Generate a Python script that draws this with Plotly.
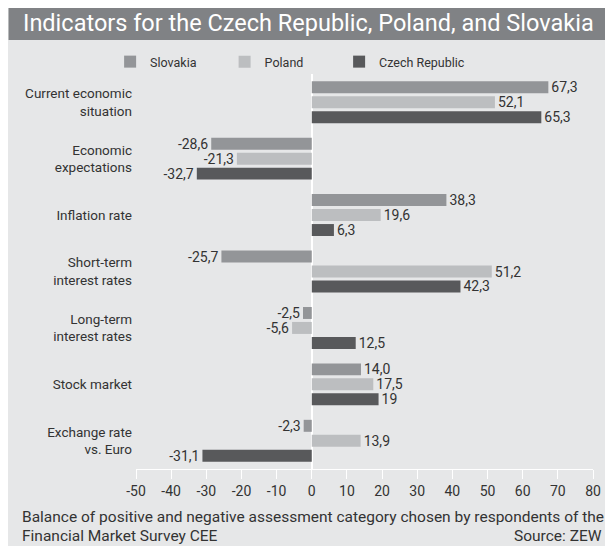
import plotly.graph_objects as go

categories = [
    "Current economic<br>situation",
    "Economic<br>expectations",
    "Inflation rate",
    "Short-term<br>interest rates",
    "Long-term<br>interest rates",
    "Stock market",
    "Exchange rate<br>vs. Euro",
]
slovakia = [67.3, -28.6, 38.3, -25.7, -2.5, 14.0, -2.3]
poland = [52.1, -21.3, 19.6, 51.2, -5.6, 17.5, 13.9]
czech = [65.3, -32.7, 6.3, 42.3, 12.5, 19, -31.1]
slovakia_text = ["67,3", "-28,6", "38,3", "-25,7", "-2,5", "14,0", "-2,3"]
poland_text = ["52,1", "-21,3", "19,6", "51,2", "-5,6", "17,5", "13,9"]
czech_text = ["65,3", "-32,7", "6,3", "42,3", "12,5", "19", "-31,1"]
x_ticks = list(range(-50, 81, 10))

COLOURS = {
    "Slovakia": "#939598",
    "Poland": "#bcbec0",
    "Czech Republic": "#58595b",
    "bg": "#e6e7e8",
    "title": "#808285",
    "text": "#333333",
}
FONT = "Roboto"

# the page puts the figure 8px in from the top-left corner
W, H = 605, 538
L, R, T, B = 128, 18, 66, 77
PW, PH = W - L - R, H - T - B


def px(x):
    return (x - L) / PW


def py(y):
    return (H - B - y) / PH


fig = go.Figure()
series = [
    ("Slovakia", slovakia, slovakia_text, "legend", 102),
    ("Poland", poland, poland_text, "legend2", 217),
    ("Czech Republic", czech, czech_text, "legend3", 332),
]
legends = {}
for name, vals, txt, leg, leg_x in series:
    fig.add_trace(
        go.Bar(
            y=categories,
            x=vals,
            orientation="h",
            name=name,
            legend=leg,
            marker=dict(color=COLOURS[name], line=dict(width=0)),
            text=txt,
            textposition="outside",
            textfont=dict(size=14, color=COLOURS["text"], family=FONT),
            constraintext="none",
            cliponaxis=False,
        )
    )
    legends[leg] = dict(
        orientation="h",
        x=px(leg_x),
        y=py(54),
        xanchor="left",
        yanchor="middle",
        bgcolor="rgba(0,0,0,0)",
        font=dict(size=12.5, color=COLOURS["text"]),
    )

fig.update_layout(
    width=W,
    height=H,
    margin=dict(l=L, r=R, t=T, b=B),
    paper_bgcolor=COLOURS["bg"],
    plot_bgcolor=COLOURS["bg"],
    barmode="group",
    bargap=0.204,
    bargroupgap=0.2,
    font=dict(family=FONT, size=13, color=COLOURS["text"]),
    showlegend=True,
    **legends,
)

fig.update_xaxes(
    range=[-50, 80],
    tickvals=x_ticks,
    ticktext=[str(v) for v in x_ticks],
    showgrid=False,
    zeroline=True,
    zerolinecolor="white",
    zerolinewidth=2,
    showline=True,
    linecolor="white",
    linewidth=1,
    ticks="outside",
    tickcolor="white",
    ticklen=9,
    tickfont=dict(size=14),
)
fig.update_yaxes(
    range=[6.5, -0.5],
    showgrid=False,
    zeroline=False,
    ticks="",
    ticklabelstandoff=3,
    tickfont=dict(size=13.5),
)

# title bar
fig.add_shape(type="rect", xref="paper", yref="paper", x0=px(0), x1=px(W), y0=py(32), y1=py(0),
              fillcolor=COLOURS["title"], line_width=0, layer="above")

fig.add_annotation(
    text="Indicators for the Czech Republic, Poland, and Slovakia",
    xref="paper", yref="paper", x=px(12), y=py(15),
    xanchor="left", yanchor="middle", showarrow=False,
    font=dict(size=23.5, color="white", family=FONT),
)
fig.add_annotation(
    text="Balance of positive and negative assessment category chosen by respondents of the",
    xref="paper", yref="paper", x=px(11), y=py(509),
    xanchor="left", yanchor="middle", showarrow=False,
    font=dict(size=15.5, color=COLOURS["text"], family=FONT),
)
fig.add_annotation(
    text="Financial Market Survey CEE",
    xref="paper", yref="paper", x=px(11), y=py(528),
    xanchor="left", yanchor="middle", showarrow=False,
    font=dict(size=15.5, color=COLOURS["text"], family=FONT),
)
fig.add_annotation(
    text="Source: ZEW",
    xref="paper", yref="paper", x=px(598), y=py(528),
    xanchor="right", yanchor="middle", showarrow=False,
    font=dict(size=15.5, color=COLOURS["text"], family=FONT),
)

fig.write_html("out.html")
